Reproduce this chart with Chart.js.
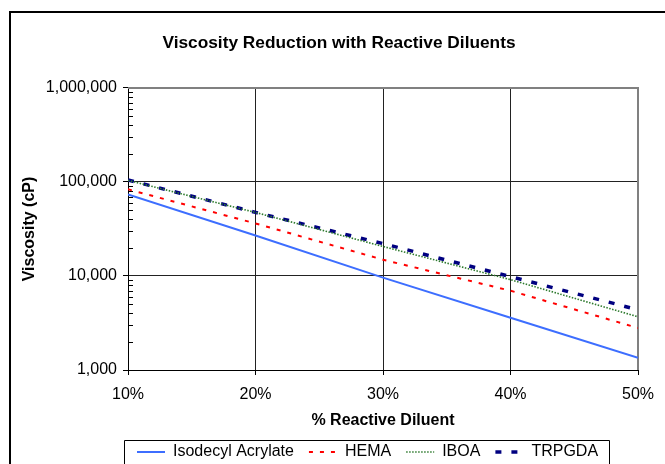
<!DOCTYPE html>
<html>
<head>
<meta charset="utf-8">
<script src="https://cdn.jsdelivr.net/npm/chart.js@4/dist/chart.umd.min.js"></script>
<style>
  html, body { margin: 0; padding: 0; background: #fff; }
  canvas { display: block; }
</style>
</head>
<body>
<canvas id="c" width="665" height="464"></canvas>
<script>
// ---- data ----
const diluentPct = [10, 20, 30, 40, 50];
const isodecylAcrylate = [73800, 27000, 9600, 3600, 1350];
const hema = [83500, 36200, 14900, 6970, 2800];
const iboa = [104000, 47400, 20600, 9140, 3680];
const trpgda = [105000, 47500, 22100, 9840, 4370];
const seriesNames = ['Isodecyl Acrylate', 'HEMA', 'IBOA', 'TRPGDA'];
const yMajorTicks = [1000, 10000, 100000, 1000000];

const FONT = "'Liberation Sans', Arial, sans-serif";
Chart.defaults.font.family = FONT;
Chart.defaults.color = '#000';

function pts(arr) { return diluentPct.map((x, i) => ({ x: x, y: arr[i] })); }
function isMajor(v) { return yMajorTicks.indexOf(Math.round(v)) !== -1; }

const decor = {
  id: 'decor',
  beforeDraw(chart) {
    const ctx = chart.ctx;
    ctx.save();
    ctx.fillStyle = '#fff';
    ctx.fillRect(0, 0, chart.width, chart.height);
    ctx.restore();
  },
  afterLayout(chart) {
    const lg = chart.legend;
    const dx = 122 - lg.left;
    lg.left += dx;
    lg.right = chart.width + 200;
    const tb = chart.titleBlock;
    tb.left += 20;
    tb.right += 20;
  },
  beforeDatasetsDraw(chart) {
    const ctx = chart.ctx;
    const a = chart.chartArea;
    const y = chart.scales.y;
    ctx.save();
    ctx.strokeStyle = '#000';
    ctx.lineWidth = 1;
    ctx.beginPath();
    for (let e = 3; e < 6; e++) {
      for (let m = 2; m <= 9; m++) {
        const py = Math.round(y.getPixelForValue(m * Math.pow(10, e))) + 0.5;
        ctx.moveTo(a.left, py);
        ctx.lineTo(a.left + 5, py);
      }
    }
    ctx.stroke();
    ctx.strokeStyle = '#808080';
    ctx.lineWidth = 2;
    ctx.beginPath();
    ctx.moveTo(a.left, a.top);
    ctx.lineTo(a.right, a.top);
    ctx.lineTo(a.right, a.bottom);
    ctx.stroke();
    ctx.restore();
  },
  afterDraw(chart) {
    const ctx = chart.ctx;
    const lg = chart.legend;
    ctx.save();
    ctx.strokeStyle = '#000';
    ctx.lineWidth = 1;
    const top = lg.top + 11.5;
    ctx.beginPath();
    ctx.moveTo(lg.left + 2.5, chart.height + 5);
    ctx.lineTo(lg.left + 2.5, top);
    ctx.lineTo(lg.left + 487.5, top);
    ctx.lineTo(lg.left + 487.5, chart.height + 5);
    ctx.stroke();
    ctx.lineWidth = 2;
    ctx.strokeRect(10, 12, chart.width + 50, chart.height + 50);
    ctx.restore();
  }
};

new Chart(document.getElementById('c'), {
  type: 'line',
  data: {
    datasets: [
      { label: seriesNames[0], data: pts(isodecylAcrylate), borderColor: '#3D6EFF', backgroundColor: '#3D6EFF', borderWidth: 2, pointRadius: 0 },
      { label: seriesNames[1], data: pts(hema), borderColor: '#FF0000', backgroundColor: '#FF0000', borderWidth: 2, borderDash: [4, 7], pointRadius: 0 },
      { label: seriesNames[2], data: pts(iboa), borderColor: '#2E7A2E', backgroundColor: '#2E7A2E', borderWidth: 1.6, borderDash: [1.5, 1.5], pointRadius: 0 },
      { label: seriesNames[3], data: pts(trpgda), borderColor: '#000080', backgroundColor: '#000080', borderWidth: 3.5, borderDash: [6, 10], pointRadius: 0 }
    ]
  },
  options: {
    responsive: false,
    animation: false,
    devicePixelRatio: 1,
    layout: { padding: { left: 0, right: 27, top: 0, bottom: -6 } },
    plugins: {
      title: {
        display: true,
        text: 'Viscosity Reduction with Reactive Diluents',
        font: { size: 17.3, weight: 'bold', lineHeight: 1.2 },
        color: '#000',
        padding: { top: 32.6, bottom: 34.6 }
      },
      legend: {
        position: 'bottom',
        align: 'start',
        labels: {
          usePointStyle: true,
          pointStyle: 'line',
          pointStyleWidth: 28,
          boxHeight: 16,
          padding: 15,
          color: '#000',
          font: { size: 16 },
          generateLabels(chart) {
            const items = Chart.defaults.plugins.legend.labels.generateLabels(chart);
            items.forEach(it => {
              const ds = chart.data.datasets[it.datasetIndex];
              it.lineDash = ds.borderDash || [];
              it.lineWidth = ds.borderWidth;
              it.strokeStyle = ds.borderColor;
              it.pointStyle = 'line';
            });
            return items;
          }
        }
      },
      tooltip: { enabled: false }
    },
    scales: {
      x: {
        type: 'linear',
        min: 10, max: 50,
        ticks: { stepSize: 10, padding: 10, font: { size: 16 }, color: '#000', callback: v => v + '%' },
        grid: { color: '#222', lineWidth: 1, tickLength: 5, tickColor: '#000', drawTicks: true },
        border: { color: '#000', width: 1 },
        title: { display: true, text: '% Reactive Diluent', font: { size: 16, weight: 'bold', lineHeight: 1 }, color: '#000', padding: { top: 0, bottom: 0 } },
        afterFit(s) { s.height = 59; }
      },
      y: {
        type: 'logarithmic',
        min: 1000, max: 1000000,
        ticks: {
          autoSkip: false,
          padding: 6,
          font: { size: 16 },
          color: '#000',
          callback: v => isMajor(v) ? Math.round(v).toLocaleString('en-US') : ''
        },
        grid: {
          color: c => isMajor(c.tick.value) ? '#222' : 'rgba(0,0,0,0)',
          tickColor: c => isMajor(c.tick.value) ? '#000' : 'rgba(0,0,0,0)',
          lineWidth: 1, tickLength: 5, drawTicks: true
        },
        border: { color: '#000', width: 1 },
        title: { display: true, text: 'Viscosity (cP)', font: { size: 16, weight: 'bold', lineHeight: 1.2 }, color: '#000', padding: { top: 20.4, bottom: 0 } },
        afterFit(s) { s.width = 128; }
      }
    }
  },
  plugins: [decor]
});
</script>
</body>
</html>
